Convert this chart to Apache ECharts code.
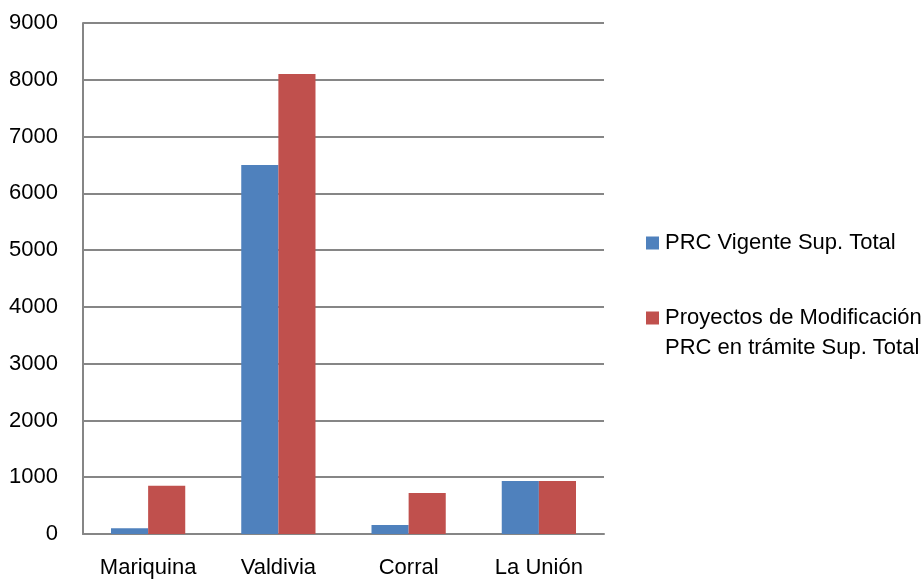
<!DOCTYPE html>
<html>
<head>
<meta charset="utf-8">
<script src="https://cdn.jsdelivr.net/npm/echarts@6/dist/echarts.min.js"></script>
<style>html,body{margin:0;padding:0;background:#fff;}#c{width:923px;height:579px;}</style>
</head>
<body>
<div id="c"></div>
<script>
const categories = ['Mariquina', 'Valdivia', 'Corral', 'La Unión'];
const seriesNames = ['PRC Vigente Sup. Total', 'Proyectos de Modificación\nPRC en trámite Sup. Total'];
const vigente = [100, 6500, 160, 935];
const proyectos = [850, 8100, 720, 935];
const yTicks = [0, 1000, 2000, 3000, 4000, 5000, 6000, 7000, 8000, 9000];

const font = '"Liberation Sans", Arial, sans-serif';
const chart = echarts.init(document.getElementById('c'), null, {renderer: 'canvas'});
chart.setOption({
  animation: false,
  backgroundColor: '#ffffff',
  grid: {left: 83, right: 319, top: 23, bottom: 45, containLabel: false},
  legend: {
    orient: 'vertical',
    left: 646,
    top: 228,
    padding: 0,
    itemGap: 15,
    itemWidth: 13,
    itemHeight: 13,
    icon: 'rect',
    data: seriesNames,
    formatter: function (name) { return name.indexOf('\n') >= 0 ? '\n' + name : name; },
    textStyle: {fontFamily: font, fontSize: 22, color: '#000', lineHeight: 30, padding: [0, 0, 0, 1]}
  },
  xAxis: {
    type: 'category',
    data: categories,
    axisLine: {show: true, lineStyle: {color: '#868686', width: 2}},
    axisTick: {show: false},
    axisLabel: {fontFamily: font, fontSize: 22, color: '#000', margin: 23}
  },
  yAxis: {
    type: 'value',
    min: yTicks[0],
    max: yTicks[yTicks.length - 1],
    interval: 1000,
    axisLine: {show: true, lineStyle: {color: '#868686', width: 2}},
    axisTick: {show: false},
    splitLine: {show: true, lineStyle: {color: '#868686', width: 2}},
    axisLabel: {fontFamily: font, fontSize: 22, color: '#000', margin: 25,
      formatter: function (v) { return String(v); }}
  },
  series: [
    {name: seriesNames[0], type: 'bar', data: vigente, barGap: '0%', barCategoryGap: '43%',
     itemStyle: {color: '#4F81BD'}},
    {name: seriesNames[1], type: 'bar', data: proyectos, barGap: '0%', barCategoryGap: '43%',
     itemStyle: {color: '#C0504D'}}
  ]
});
</script>
</body>
</html>
